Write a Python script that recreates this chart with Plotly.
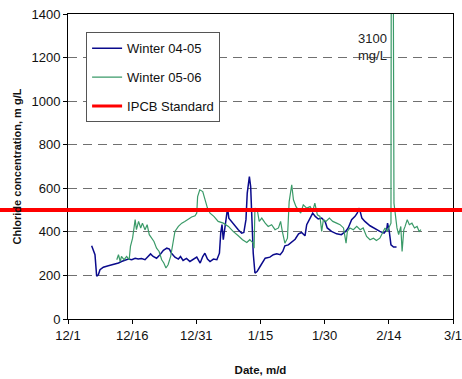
import plotly.graph_objects as go

# x values are days after 12/1
tick_days = [0, 15, 30, 45, 60, 75, 90]
tick_labels = ["12/1", "12/16", "12/31", "1/15", "1/30", "2/14", "3/1"]
y_ticks = [0, 200, 400, 600, 800, 1000, 1200, 1400]

w0405_day = [5.53, 5.92, 6.31, 6.70, 7.09, 7.48, 8.26, 9.43, 10.6, 11.8, 12.5, 13.3, 14.1, 14.9,
             15.7, 16.4, 17.2, 18.0, 18.8, 19.3, 19.9, 20.7, 21.5, 22.3, 23.1, 23.7, 24.2, 25.0,
             25.8, 26.3, 26.9, 27.7, 28.5, 29.3, 30.1, 30.9, 31.5, 32.0, 32.6, 33.2, 34.0, 34.8,
             35.4, 35.7, 36.0, 36.3, 36.9, 37.3, 37.6, 38.2, 39.0, 39.8, 40.6, 41.1, 41.6, 41.9,
             42.4, 42.7, 43.0, 43.3, 43.7, 44.2, 44.9, 46.1, 47.2, 48.0, 48.8, 49.6, 50.2, 50.7,
             51.5, 52.3, 53.1, 53.9, 54.6, 55.4, 55.8, 56.6, 57.2, 57.8, 58.5, 59.3, 60.1, 60.6,
             61.6, 62.8, 63.9, 64.9, 65.5, 66.3, 67.1, 67.6, 68.1, 68.7, 69.4, 70.6, 71.8, 72.9,
             73.9, 74.5, 74.7, 75.1, 75.5, 76.1, 76.8]
w0405_val = [336, 310, 295, 196, 203, 226, 238, 244, 249, 257, 264, 269, 275, 272,
             279, 275, 278, 272, 287, 299, 287, 279, 295, 315, 325, 321, 302, 284,
             275, 287, 269, 278, 264, 275, 284, 257, 287, 302, 275, 264, 275, 272,
             302, 394, 433, 364, 448, 509, 463, 448, 433, 410, 394, 397, 456, 578,
             654, 608, 456, 302, 211, 218, 241, 279, 284, 295, 299, 295, 310, 336,
             340, 351, 366, 391, 397, 382, 433, 463, 486, 471, 459, 463, 448, 418,
             402, 391, 387, 402, 418, 456, 471, 486, 509, 463, 448, 428, 413, 402,
             394, 410, 440, 402, 340, 330, 330]

w0506_day = [11.4, 11.8, 12.2, 12.5, 13.1, 13.7, 14.3, 14.6, 15.1, 15.7, 16.0, 16.5, 17.0, 17.4,
             18.0, 18.5, 19.0, 19.6, 20.1, 20.7, 21.3, 21.9, 22.4, 22.9, 23.4, 24.0, 24.5, 25.0,
             25.8, 26.6, 27.3, 28.1, 28.9, 29.7, 30.1, 30.3, 30.8, 31.5, 32.0, 32.6, 33.2, 34.1,
             35.1, 36.3, 37.5, 38.6, 39.8, 40.8, 41.8, 42.5, 43.3, 43.5, 43.7, 44.3, 44.7, 45.3,
             46.1, 46.8, 47.6, 48.4, 49.2, 49.7, 50.1, 50.7, 51.3, 51.7, 52.3, 52.7, 53.3, 53.9,
             54.4, 55.0, 55.8, 56.6, 57.2, 57.7, 58.3, 58.9, 59.3, 59.7, 60.3, 61.1, 61.9, 62.8,
             63.6, 64.4, 65.0, 65.3, 65.9, 66.7, 67.5, 68.3, 69.0, 69.8, 70.6, 71.4, 72.1, 72.9,
             73.5, 74.1, 74.6, 75.1, 75.5, 75.65, 75.8, 76.2, 76.5, 76.9, 77.3, 77.8, 78.1, 78.5,
             78.8, 79.3, 79.8, 80.4, 81.0, 81.6, 82.1, 82.5]
w0506_val = [272, 295, 264, 287, 272, 287, 272, 333, 371, 456, 410, 448, 418, 440,
             410, 433, 387, 371, 356, 325, 310, 272, 257, 234, 249, 287, 340, 402,
             425, 440, 448, 459, 468, 474, 486, 562, 593, 585, 555, 509, 486, 471,
             448, 440, 425, 402, 382, 364, 351, 364, 348, 325, 509, 494, 448, 463,
             440, 425, 433, 410, 418, 448, 402, 348, 371, 539, 616, 547, 516, 501,
             486, 524, 509, 516, 494, 532, 478, 471, 402, 456, 448, 463, 448, 440,
             433, 418, 348, 402, 418, 410, 425, 410, 418, 379, 364, 371, 360, 371,
             394, 418, 402, 425, 440, 3100, 3100, 532, 486, 418, 387, 425, 310, 410,
             425, 456, 433, 440, 418, 425, 402, 410]

ipcb_standard = 500
x_range = [0, 90]

font = "Liberation Sans, Arial, sans-serif"

fig = go.Figure()
fig.add_trace(go.Scatter(x=w0405_day, y=w0405_val, mode="lines", name="Winter 04-05",
                         line=dict(color="#0a0a8c", width=1.5), legendgroup="a"))
fig.add_trace(go.Scatter(x=w0506_day, y=w0506_val, mode="lines", name="Winter 05-06",
                         line=dict(color="#3a9a68", width=1.2), legendgroup="b"))
fig.add_trace(go.Scatter(x=x_range, y=[ipcb_standard, ipcb_standard], mode="lines",
                         name="IPCB Standard", line=dict(color="#ff0000", width=3),
                         legendgroup="c"))

fig.add_shape(type="line", xref="paper", yref="y", x0=-0.2, x1=1.1,
              y0=ipcb_standard, y1=ipcb_standard,
              line=dict(color="#ff0000", width=4), layer="above")

fig.add_annotation(x=71.2, y=1250, xref="x", yref="y", text="3100<br>mg/L",
                   showarrow=False, font=dict(family=font, size=13, color="#222"),
                   align="center")

fig.update_layout(
    width=462, height=379,
    margin=dict(l=68, r=9, t=14, b=60, autoexpand=False),
    paper_bgcolor="white", plot_bgcolor="white",
    font=dict(family=font, size=13, color="#111"),
    showlegend=True,
    legend=dict(x=0.047, y=0.94, xanchor="left", yanchor="top",
                bgcolor="white", bordercolor="#555", borderwidth=1,
                font=dict(family=font, size=13, color="#111"),
                tracegroupgap=9, traceorder="grouped", itemwidth=30),
    xaxis=dict(range=x_range, tickmode="array", tickvals=tick_days, ticktext=tick_labels,
               showgrid=False, zeroline=False, showline=True, linecolor="black",
               linewidth=1, mirror=True, ticks="outside", ticklen=4, tickcolor="black",
               automargin=False, ticklabeloverflow="allow",
               title=dict(text="<b>Date, m/d</b>", font=dict(family=font, size=11.5), standoff=24),
               tickfont=dict(family=font, size=13)),
    yaxis=dict(range=[0, 1400], tickmode="array", tickvals=y_ticks,
               showgrid=True, gridcolor="#707070", griddash="9px,6px", gridwidth=1.2,
               zeroline=False, showline=True, linecolor="black", linewidth=1, mirror=True,
               ticks="outside", ticklen=4, tickcolor="black", automargin=False,
               ticklabeloverflow="allow",
               title=dict(text="<b>Chloride concentration, m g/L</b>",
                          font=dict(family=font, size=11), standoff=7),
               tickfont=dict(family=font, size=13)),
)

fig.write_html("out.html", post_script="document.body.style.margin='0';",
               config={"displayModeBar": False})
